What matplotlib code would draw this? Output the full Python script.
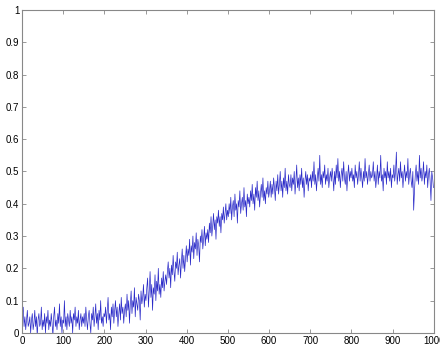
import numpy as np
import matplotlib
matplotlib.use("Agg")
import matplotlib.pyplot as plt

values = [
0.06,0.08,0.02,0.05,0.01,0.04,0.07,0.02,0.03,0.05,0.00,0.04,0.06,0.01,0.03,0.07,0.02,0.05,-0.01,0.04,0.06,0.02,0.03,0.08,0.01,
0.04,0.02,0.06,0.00,0.05,0.03,0.07,0.01,0.04,0.02,0.06,0.03,-0.01,0.05,0.08,0.02,0.04,0.01,0.06,0.03,0.09,0.02,0.05,0.00,0.04,
0.03,0.10,0.02,0.05,0.01,0.06,0.04,0.02,0.07,0.03,0.05,0.00,0.06,0.04,0.08,0.02,0.05,0.03,0.07,0.01,0.04,0.06,0.02,0.05,0.03,
0.06,0.02,0.08,0.04,0.01,0.05,0.07,0.03,0.00,0.06,0.04,0.08,0.02,0.05,0.09,0.03,0.06,0.01,0.07,0.04,0.10,0.03,0.05,0.02,0.06,
0.05,0.08,0.03,0.07,0.11,0.04,0.06,0.01,0.08,0.05,0.09,0.03,0.07,0.10,0.05,0.08,0.02,0.06,0.09,0.04,0.11,0.06,0.08,0.03,0.07,
0.09,0.05,0.12,0.07,0.10,0.03,0.09,0.13,0.06,0.10,0.08,0.14,0.05,0.11,0.09,0.07,0.12,0.10,0.04,0.13,0.09,0.11,0.15,0.08,0.12,
0.10,0.14,0.17,0.08,0.13,0.19,0.11,0.15,0.07,0.14,0.12,0.18,0.10,0.16,0.13,0.20,0.12,0.15,0.11,0.17,0.14,0.19,0.13,0.16,0.18,
0.15,0.19,0.22,0.17,0.20,0.14,0.21,0.18,0.24,0.19,0.16,0.22,0.20,0.25,0.18,0.21,0.23,0.17,0.22,0.26,0.20,0.24,0.19,0.23,0.27,
0.22,0.26,0.24,0.29,0.21,0.27,0.25,0.30,0.23,0.28,0.26,0.31,0.24,0.29,0.27,0.22,0.30,0.28,0.32,0.26,0.29,0.33,0.27,0.31,0.29,
0.32,0.28,0.34,0.31,0.36,0.30,0.33,0.37,0.32,0.35,0.29,0.36,0.34,0.38,0.33,0.36,0.31,0.37,0.35,0.39,0.34,0.37,0.40,0.35,0.38,
0.36,0.40,0.37,0.42,0.35,0.39,0.41,0.36,0.43,0.38,0.40,0.34,0.41,0.39,0.44,0.37,0.40,0.42,0.38,0.45,0.39,0.41,0.36,0.43,0.40,
0.42,0.39,0.44,0.41,0.46,0.40,0.43,0.38,0.45,0.42,0.47,0.41,0.44,0.39,0.43,0.46,0.42,0.48,0.41,0.44,0.40,0.45,0.43,0.47,0.42,
0.44,0.47,0.42,0.46,0.43,0.48,0.45,0.41,0.47,0.44,0.49,0.43,0.46,0.50,0.44,0.47,0.42,0.48,0.45,0.51,0.44,0.47,0.43,0.49,0.46,
0.45,0.49,0.44,0.48,0.46,0.50,0.43,0.47,0.52,0.45,0.48,0.44,0.49,0.46,0.51,0.45,0.48,0.42,0.47,0.50,0.46,0.49,0.44,0.48,0.47,
0.49,0.45,0.50,0.47,0.53,0.46,0.49,0.44,0.48,0.51,0.47,0.55,0.46,0.49,0.45,0.50,0.48,0.52,0.46,0.49,0.47,0.51,0.45,0.48,0.50,
0.47,0.51,0.48,0.44,0.50,0.46,0.52,0.48,0.54,0.47,0.50,0.45,0.49,0.51,0.47,0.53,0.48,0.46,0.50,0.44,0.49,0.52,0.47,0.50,0.48,
0.51,0.47,0.49,0.45,0.52,0.48,0.50,0.46,0.49,0.53,0.47,0.51,0.48,0.45,0.50,0.47,0.54,0.48,0.50,0.46,0.49,0.52,0.47,0.50,0.48,
0.49,0.53,0.47,0.50,0.45,0.48,0.52,0.46,0.50,0.48,0.55,0.47,0.49,0.44,0.51,0.48,0.50,0.46,0.53,0.48,0.50,0.47,0.51,0.45,0.49,
0.48,0.52,0.47,0.50,0.56,0.46,0.49,0.51,0.47,0.53,0.48,0.50,0.45,0.49,0.52,0.47,0.50,0.48,0.54,0.46,0.49,0.51,0.47,0.45,0.50,
0.38,0.44,0.49,0.52,0.47,0.50,0.46,0.55,0.48,0.51,0.47,0.49,0.53,0.46,0.50,0.48,0.52,0.45,0.49,0.51,0.47,0.41,0.50,0.48,0.45,
]
x_step = 2
x_ticks = [0, 100, 200, 300, 400, 500, 600, 700, 800, 900, 1000]
y_ticks = [0, 0.1, 0.2, 0.3, 0.4, 0.5, 0.6, 0.7, 0.8, 0.9, 1]
y_ticklabels = ["0", "0.1", "0.2", "0.3", "0.4", "0.5", "0.6", "0.7", "0.8", "0.9", "1"]

x = np.arange(len(values)) * x_step + 1

fig = plt.figure(figsize=(4.4, 3.45), dpi=100)
ax = fig.add_axes([0.05, 0.035, 0.936, 0.936])
ax.plot(x, values, color="#2a2ac8", lw=0.5)
ax.set_xlim(0, 1000)
ax.set_ylim(0, 1)
ax.set_xticks(x_ticks)
ax.set_yticks(y_ticks)
ax.set_yticklabels(y_ticklabels)
for s in ax.spines.values():
    s.set_color("#888888")
    s.set_linewidth(0.8)
ax.tick_params(direction="in", length=3, width=0.6, color="#888888",
               labelsize=7, pad=2, top=True, right=True)
for lbl in ax.get_xticklabels() + ax.get_yticklabels():
    lbl.set_fontfamily("Liberation Sans")
fig.savefig("out.png", dpi=100)
